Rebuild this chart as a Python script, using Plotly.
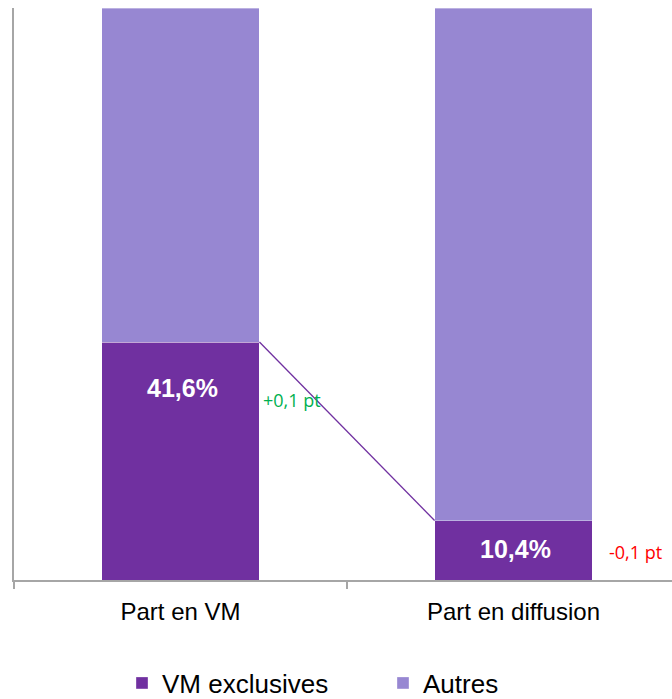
import plotly.graph_objects as go

categories = ["Part en VM", "Part en diffusion"]
vm_exclusives = [41.6, 10.4]
autres = [58.4, 89.6]
value_labels = ["41,6%", "10,4%"]
evolution_labels = ["+0,1 pt", "-0,1 pt"]
evolution_colors = ["#00B050", "#FF0000"]

DARK = "#7030A0"
LIGHT = "#9787D2"
BAR_W = 0.474
FONT = "Liberation Sans, Arial, sans-serif"

fig = go.Figure()
fig.add_trace(go.Bar(
    x=categories, y=vm_exclusives, name="VM exclusives",
    marker=dict(color=DARK, line=dict(color="rgba(255,255,255,0.35)", width=1)),
    width=BAR_W,
))
fig.add_trace(go.Bar(
    x=categories, y=autres, name="Autres",
    marker=dict(color=LIGHT, line=dict(color="rgba(255,255,255,0.35)", width=1)),
    width=BAR_W,
))

# value labels inside the dark segments, evolution next to the bars
label_y = [33.6, 5.4]
evol_y = [31.4, 4.9]
evol_shift = [2, 15]
for i, txt in enumerate(value_labels):
    fig.add_annotation(x=i, y=label_y[i], text="<b>" + txt + "</b>", showarrow=False,
                       font=dict(family=FONT, size=25, color="white"),
                       xshift=2)
    fig.add_annotation(x=i + BAR_W / 2, y=evol_y[i], text=evolution_labels[i],
                       showarrow=False, xanchor="left",
                       font=dict(family="Open Sans, sans-serif", size=18,
                                 color=evolution_colors[i]),
                       xshift=evol_shift[i])

# connector between the two dark segments
fig.add_shape(type="line", xref="x", yref="y",
              x0=0 + BAR_W / 2, y0=vm_exclusives[0],
              x1=1 - BAR_W / 2, y1=vm_exclusives[1],
              line=dict(color=DARK, width=1.3))

fig.update_layout(
    barmode="stack",
    width=672, height=699,
    margin=dict(l=14, r=0, t=8, b=119),
    plot_bgcolor="white", paper_bgcolor="white",
    font=dict(family=FONT, size=24, color="black"),
    legend=dict(orientation="h", xref="container", yref="container",
                x=122 / 672, xanchor="left",
                y=1 - 683 / 699, yanchor="middle",
                entrywidth=216, entrywidthmode="pixels",
                font=dict(family=FONT, size=26), traceorder="normal"),
    xaxis=dict(range=[-0.5, 1.476], showline=True, linecolor="#A6A6A6",
               linewidth=2, ticks="outside", tickson="boundaries",
               ticklen=7, tickcolor="#A6A6A6", tickwidth=1.5,
               tickfont=dict(size=24), ticklabelstandoff=9),
    yaxis=dict(range=[0, 100], showline=True, linecolor="#A6A6A6",
               linewidth=2, showgrid=False, showticklabels=False,
               zeroline=False),
)

fig.write_html("out.html", config={"displayModeBar": False},
               post_script="document.body.style.margin='0px';")
